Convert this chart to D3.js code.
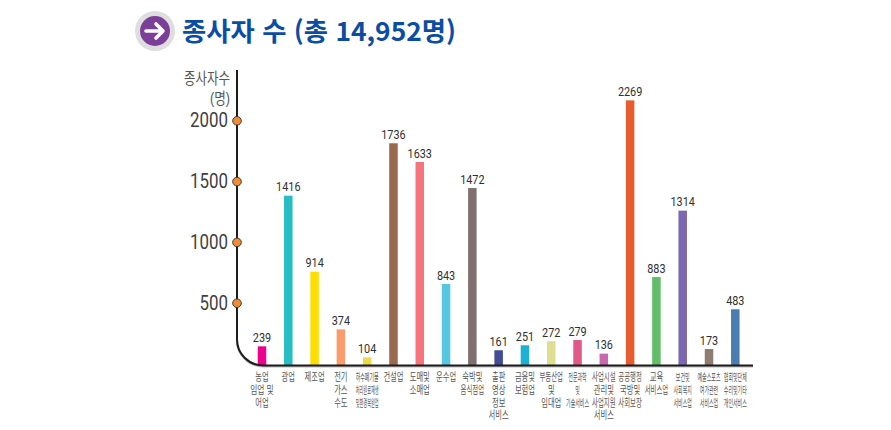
<!DOCTYPE html>
<html lang="ko"><head><meta charset="utf-8">
<script src="https://cdn.jsdelivr.net/npm/d3@7/dist/d3.min.js"></script>
<style>html,body{margin:0;padding:0;background:#fff}svg{display:block}</style>
</head><body><svg id="c" width="891" height="430"></svg>
<script>
const titleText = "종사자 수 (총 14,952명)";
const yTitle = ["종사자수", "(명)"];
const categories = [
  ["농업","임업 및","어업"],["광업"],["제조업"],["전기","가스","수도"],
  ["하수폐기물","처리원료재생","및환경복원업"],["건설업"],["도매및","소매업"],["운수업"],
  ["숙박및","음식점업"],["출판","영상","정보","서비스"],["금융및","보험업"],["부동산업","및","임대업"],
  ["전문과학","및","기술서비스"],["사업시설","관리및","사업지원","서비스"],["공공행정","국방및","사회보장"],["교육","서비스업"],
  ["보건및","사회복지","서비스업"],["예술스포츠","여가관련","서비스업"],["협회및단체","수리및기타","개인서비스"]
];
// numbers printed above the bars
const printedValues = [239,1416,914,374,104,1736,1633,843,1472,161,251,272,279,136,2269,883,1314,173,483];
// bar tops as they read against the reference's y axis (the picture is not drawn to scale)
const barLevels = [141,1380,755,281,51,1811,1657,654,1443,109,150,183,193,81,2164,711,1257,119,446];
const barColors = ["#ec008c","#26bec4","#ffdd00","#f99d6c","#e8dc4a","#9a6a4e","#f6757c","#57c7e0","#80706f","#434a96","#1eb0d0","#dede90","#e05a85","#c768b0","#e85d30","#62bd69","#7b68b0","#8f7c70","#4a7db0"];
const tightLabels = [4,12,16,17,18];
const yTicks = [500,1000,1500,2000];
const baseLevel = -16;

const svg = d3.select("#c");
const KR = "'Noto Sans CJK KR','Noto Sans',sans-serif";
const KRsmall = "'Liberation Sans','Noto Sans CJK KR',sans-serif";
const y = d3.scaleLinear().domain([500,2000]).range([302.7,120.3]);
const x = d3.scalePoint().domain(d3.range(categories.length)).range([262,735.3]);
const axisX = 237, baseY = y(baseLevel), bw = 8.5;

// header icon
const icon = svg.append("g").attr("transform","translate(155,31)");
icon.append("circle").attr("r",20).attr("fill","#dedede");
icon.append("circle").attr("r",15).attr("fill","#7b3f98");
icon.append("path").attr("d","M-9,0H8M1,-7L8,0L1,7").attr("fill","none").attr("stroke","#fff").attr("stroke-width",3.6).attr("stroke-linecap","round").attr("stroke-linejoin","round");
svg.append("text").attr("x",182).attr("y",41).attr("font-family",KR).attr("font-weight",700).attr("font-size",26).attr("fill","#0b4da2").attr("textLength",274).attr("lengthAdjust","spacingAndGlyphs").text(titleText);

// bars
svg.append("g").selectAll("rect").data(barLevels).join("rect")
  .attr("x",(d,i)=>x(i)-bw/2).attr("width",bw)
  .attr("y",d=>y(d)).attr("height",d=>baseY-y(d))
  .attr("fill",(d,i)=>barColors[i]);

// curved axis
const p = d3.path(), r = 26;
p.moveTo(axisX,70); p.lineTo(axisX,baseY-r);
p.arcTo(axisX,baseY,axisX+r,baseY,r); p.lineTo(753,baseY);
svg.append("path").attr("d",p.toString()).attr("fill","none").attr("stroke","#b9b9b9").attr("stroke-width",2).attr("transform","translate(0,1)");
svg.append("path").attr("d",p.toString()).attr("fill","none").attr("stroke","#1c1c1c").attr("stroke-width",2);

// y ticks
const ax = svg.append("g").attr("transform",`translate(${axisX},0)`)
  .call(d3.axisLeft(y).tickValues(yTicks).tickSize(0).tickPadding(9).tickFormat(d3.format("d")));
ax.select(".domain").remove();
ax.selectAll("text").attr("font-family","Roboto,sans-serif").attr("font-size",20.5).attr("fill","#3f3f3f")
  .attr("textLength",d=>String(d).length*9.5).attr("lengthAdjust","spacingAndGlyphs");
ax.selectAll(".tick").append("circle").attr("r",4.3).attr("fill","#f08c32").attr("stroke","#3a3a3a").attr("stroke-width",1);

// squeeze text horizontally about an anchor
function squeeze(sel, ax0, w){
  sel.each(function(){
    const len = this.getComputedTextLength();
    const ay = +this.getAttribute("y");
    d3.select(this).attr("transform",`translate(${ax0},${ay}) scale(${w/len},1) translate(${-ax0},${-ay})`);
  });
}
// y title
yTitle.forEach((t,i)=>{
  const s = svg.append("text").attr("x",230).attr("y",[84,104][i]).attr("text-anchor","end")
    .attr("font-family",KRsmall).attr("font-size",16).attr("fill","#555").text(t);
  squeeze(s,230,[46,20][i]);
});

// value labels
svg.append("g").selectAll("text").data(printedValues).join("text")
  .attr("x",(d,i)=>x(i)).attr("y",(d,i)=>y(barLevels[i])-4.2)
  .attr("text-anchor","middle").attr("font-family","Roboto,sans-serif").attr("font-weight",400)
  .attr("font-size",12.5).attr("fill","#2f2f2f")
  .attr("textLength",d=>String(d).length*6.1).attr("lengthAdjust","spacingAndGlyphs")
  .text(d=>d);

// category labels
categories.forEach((lines,i)=>{
  const tight = tightLabels.includes(i);
  lines.forEach((t,k)=>{
    const s = svg.append("text").attr("x",x(i)).attr("y",381.5+k*12.6).attr("text-anchor","middle")
      .attr("font-family",KRsmall).attr("font-size",tight?10:10.9).attr("fill","#555").text(t);
    squeeze(s,x(i),Math.min(t.length*(tight?4.6:6.7), tight?23:23.5));
  });
});
</script></body></html>
